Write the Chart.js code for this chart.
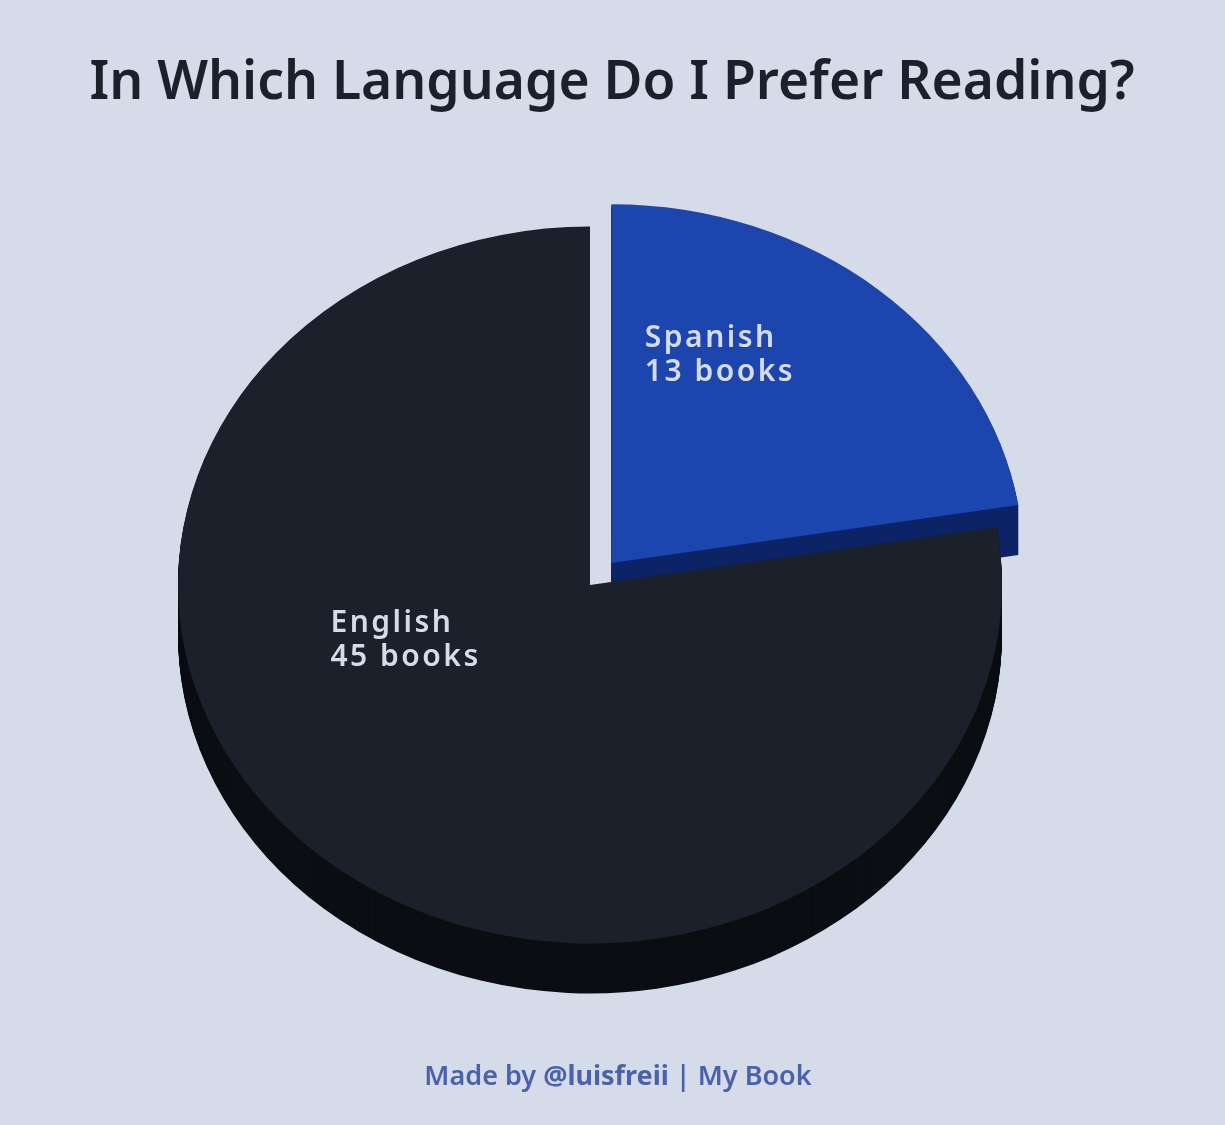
<!DOCTYPE html>
<html><head><meta charset="utf-8">
<script src="https://cdn.jsdelivr.net/npm/chart.js@4.4.1/dist/chart.umd.min.js"></script>
<style>
html,body{margin:0;padding:0;background:#d6dbea;width:1225px;height:1125px;overflow:hidden;}
#wrap{position:relative;width:1225px;height:1125px;}
canvas{position:absolute;left:0;top:0;}
</style></head>
<body><div id="wrap"><canvas id="c" width="1225" height="1125"></canvas></div>
<script>
// ---- data ----
const categories = ['Spanish', 'English'];
const books = [13, 45];
const unit = 'books';
const titleText = 'In Which Language Do I Prefer Reading?';
const footerParts = [['Made by ', 600], ['@luisfreii', 700], [' | My Book', 600]];

// ---- style ----
const topColors = ['#1c46ad', '#1b202a'];
const sideColors = ['#0d2466', '#0b0e13'];
const TILT = 0.87, DEPTH = 50;
const labelPlace = [[0.133, -0.578], [-0.63, 0.114]]; // relative to pie centre, in radius units
const FONT = '"Noto Sans", "Open Sans", sans-serif';

function tilt(ctx, el, dy) {
  ctx.translate(0, dy);
  ctx.translate(el.x, el.y);
  ctx.scale(1, TILT);
  ctx.translate(-el.x, -el.y);
}

const pie3d = {
  id: 'pie3d',
  beforeDraw(chart) {
    const ctx = chart.ctx;
    ctx.save();
    ctx.fillStyle = '#d6dbea';
    ctx.fillRect(0, 0, chart.width, chart.height);
    // title
    ctx.fillStyle = '#1b202a';
    ctx.font = '600 54px ' + FONT;
    ctx.textBaseline = 'alphabetic';
    const w = ctx.measureText(titleText).width;
    const target = 1045;
    ctx.translate(612, 99);
    ctx.scale(Math.min(1, target / w), 1);
    ctx.textAlign = 'center';
    ctx.fillText(titleText, 0, 0);
    ctx.restore();
    // footer
    ctx.save();
    ctx.fillStyle = '#4a62aa';
    ctx.textBaseline = 'alphabetic';
    let total = 0;
    const widths = footerParts.map(([t, wt]) => { ctx.font = wt + ' 27px ' + FONT; const m = ctx.measureText(t).width; total += m; return m; });
    let x = 618 - total / 2;
    footerParts.forEach(([t, wt], i) => { ctx.font = wt + ' 27px ' + FONT; ctx.fillText(t, x, 1085); x += widths[i]; });
    ctx.restore();
  },
  beforeDatasetsDraw(chart) {
    const ctx = chart.ctx;
    const meta = chart.getDatasetMeta(0);
    meta.data.forEach((el, i) => {
      const orig = el.options;
      el.options = Object.assign({}, orig, { backgroundColor: sideColors[i], borderWidth: 0 });
      for (let k = DEPTH; k >= 1; k--) { ctx.save(); tilt(ctx, el, k); el.draw(ctx); ctx.restore(); }
      el.options = orig;
    });
    ctx.save();
    tilt(ctx, meta.data[0], 0);
  },
  afterDatasetsDraw(chart) {
    const ctx = chart.ctx;
    ctx.restore();
    const meta = chart.getDatasetMeta(0);
    ctx.save();
    ctx.fillStyle = '#d6dbea';
    ctx.font = '600 30px ' + FONT;
    ctx.letterSpacing = '2.5px';
    ctx.textAlign = 'left';
    ctx.textBaseline = 'alphabetic';
    meta.data.forEach((el, i) => {
      const r = el.outerRadius;
      const x = el.x + labelPlace[i][0] * r;
      const y = el.y + labelPlace[i][1] * r;
      ctx.fillText(categories[i], x, y);
      ctx.fillText(books[i] + ' ' + unit, x, y + 34);
    });
    ctx.restore();
  }
};

new Chart(document.getElementById('c'), {
  type: 'pie',
  data: {
    labels: categories,
    datasets: [{
      data: books,
      backgroundColor: topColors,
      borderWidth: 0,
      offset: [132, 0],
      clip: false
    }]
  },
  options: {
    responsive: false,
    animation: false,
    radius: 412,
    layout: { padding: { left: 0, right: 45, top: 100, bottom: 55 } },
    plugins: { legend: { display: false }, tooltip: { enabled: false } },
    events: []
  },
  plugins: [pie3d]
});
</script></body></html>
